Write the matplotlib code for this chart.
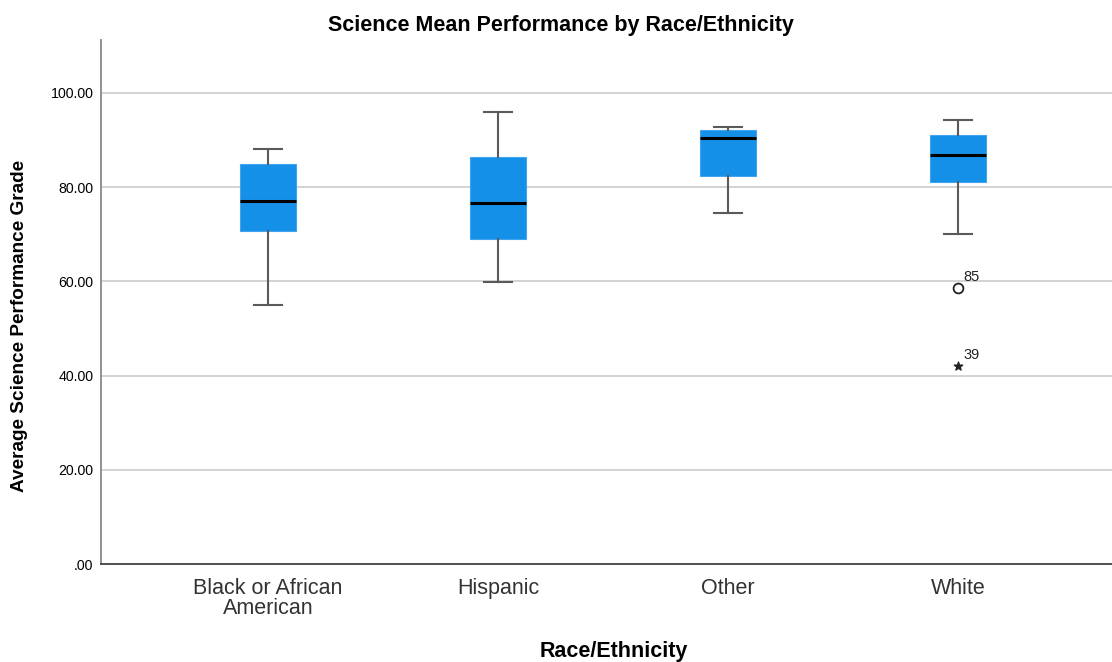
import matplotlib
matplotlib.use("Agg")
import matplotlib.pyplot as plt

categories = ["Black or African\nAmerican", "Hispanic", "Other", "White"]
whisker_low = [55.0, 59.9, 74.5, 70.1]
q1 = [70.7, 69.0, 82.4, 81.1]
medians = [77.1, 76.6, 90.4, 86.8]
q3 = [84.9, 86.4, 92.1, 91.1]
whisker_high = [88.1, 96.0, 92.8, 94.3]

outlier_cat = [3]
outlier_val = [58.6]
outlier_lbl = ["85"]
extreme_cat = [3]
extreme_val = [42.0]
extreme_lbl = ["39"]

yticks = [0, 20, 40, 60, 80, 100]
ytick_labels = [".00", "20.00", "40.00", "60.00", "80.00", "100.00"]

plt.rcParams['font.family'] = ['Liberation Sans', 'DejaVu Sans']

fig = plt.figure(figsize=(11.12, 6.62), dpi=100)
ax = fig.add_axes([0.0908, 0.148, 0.9092, 0.7916])

stats = []
for i in range(len(categories)):
    stats.append(dict(med=medians[i], q1=q1[i], q3=q3[i],
                      whislo=whisker_low[i], whishi=whisker_high[i],
                      fliers=[], label=categories[i]))

positions = list(range(len(categories)))
ax.bxp(stats, positions=positions, widths=0.24, patch_artist=True,
       showfliers=False,
       boxprops=dict(facecolor="#1490E8", edgecolor="#40A4F0", linewidth=0.8),
       medianprops=dict(color="black", linewidth=2.2),
       whiskerprops=dict(color="#5a5a5a", linewidth=1.5),
       capprops=dict(color="#5a5a5a", linewidth=1.5),
       capwidths=0.125, zorder=3)

ax.scatter(outlier_cat, outlier_val, marker="o", s=50, facecolors="white",
           edgecolors="#222222", linewidths=1.3, zorder=4)
ax.scatter(extreme_cat, extreme_val, marker="*", s=40, color="#222222", zorder=4)
for c, v, t in zip(outlier_cat, outlier_val, outlier_lbl):
    ax.annotate(t, (c, v), xytext=(4, 5), textcoords="offset points",
                fontsize=10.5, color="#222222")
for c, v, t in zip(extreme_cat, extreme_val, extreme_lbl):
    ax.annotate(t, (c, v), xytext=(4, 5), textcoords="offset points",
                fontsize=10.5, color="#222222")

ax.set_xlim(-0.726, 3.67)
ax.set_ylim(0, 111.2)
ax.set_yticks(yticks)
ax.set_yticklabels(ytick_labels, fontsize=10.2)
ax.set_xticks(positions)
ax.set_xticklabels(categories, fontsize=15.5, color="#333333", linespacing=0.95)
ax.tick_params(axis="x", length=0, pad=10)
ax.tick_params(axis="y", length=0, pad=5.5)
ax.yaxis.grid(True, color="#D0D0D0", linewidth=1.3, zorder=0)
ax.set_axisbelow(True)
for s in ["top", "right"]:
    ax.spines[s].set_visible(False)
ax.spines["left"].set_color("#888888")
ax.spines["left"].set_linewidth(1.3)
ax.spines["bottom"].set_color("#444444")
ax.spines["bottom"].set_linewidth(1.3)

fig.text(561 / 1112, 1 - 26 / 662, "Science Mean Performance by Race/Ethnicity",
         fontsize=15.5, fontweight="bold", ha="center", va="center")
fig.text(20 / 1112, 1 - 326 / 662, "Average Science Performance Grade",
         fontsize=13.7, fontweight="bold", ha="center", va="center", rotation=90)
fig.text(614 / 1112, 1 - 651 / 662, "Race/Ethnicity", fontsize=15.5,
         fontweight="bold", ha="center", va="center")

fig.savefig("out.png", dpi=100)
